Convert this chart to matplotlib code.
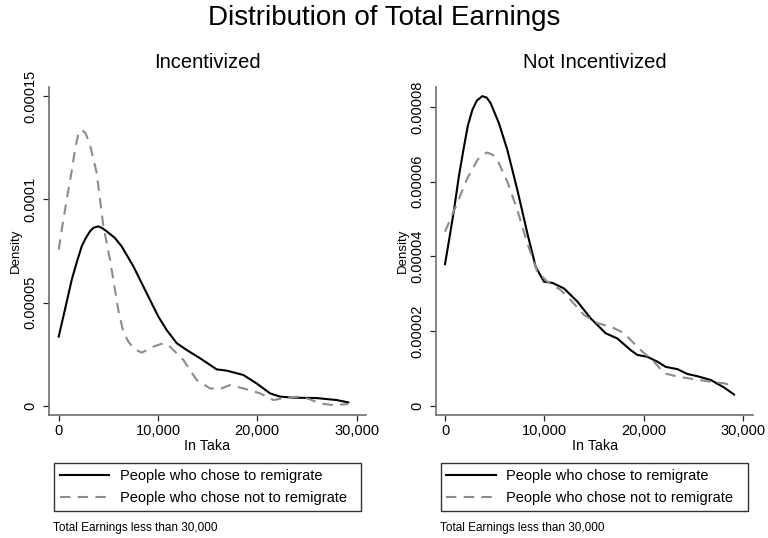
import matplotlib
matplotlib.use("Agg")
import matplotlib.pyplot as plt

plt.rcParams["font.family"] = ["Liberation Sans", "DejaVu Sans"]

# values (Taka, density)
inc_yes_x = [0, 650, 1310, 1850, 2315, 2700, 3150, 3500, 3990, 4400, 4830, 5670, 6340,
             7520, 8860, 10030, 10870, 11880, 12890, 14230, 15910, 16910, 18590, 19930,
             21280, 22280, 23620, 25970, 27990, 29160]
inc_yes_y = [3.35e-5, 4.7e-5, 6.1e-5, 7.0e-5, 7.72e-5, 8.1e-5, 8.45e-5, 8.62e-5,
             8.69e-5, 8.6e-5, 8.45e-5, 8.12e-5, 7.72e-5, 6.75e-5, 5.45e-5, 4.32e-5,
             3.67e-5, 3.03e-5, 2.7e-5, 2.3e-5, 1.76e-5, 1.7e-5, 1.49e-5, 1.08e-5,
             6.0e-6, 4.4e-6, 3.9e-6, 3.7e-6, 2.75e-6, 1.6e-6]

inc_no_x = [0, 400, 805, 1250, 1640, 1950, 2315, 2700, 3150, 3825, 4500, 5170, 6000,
            6500, 7010, 7600, 8360, 9530, 10540, 11210, 12550, 13890, 15230, 16240,
            17250, 18590, 20270, 21610, 22950, 24290, 25300, 26310, 27650, 29160]
inc_no_y = [7.56e-5, 8.8e-5, 9.98e-5, 1.12e-4, 1.241e-4, 1.31e-4, 1.338e-4, 1.32e-4,
            1.265e-4, 1.128e-4, 8.69e-5, 7.07e-5, 4.64e-5, 3.6e-5, 3.11e-5, 2.75e-5,
            2.57e-5, 2.86e-5, 3.03e-5, 2.86e-5, 2.22e-5, 1.25e-5, 8.4e-6, 8.1e-6,
            1.0e-5, 8.4e-6, 6.0e-6, 2.75e-6, 3.9e-6, 4.4e-6, 3.1e-6, 1.1e-6, 3e-7, 8e-7]

not_yes_x = [0, 450, 906, 1400, 1913, 2300, 2752, 3200, 3758, 4200, 4597, 5436, 6275,
             7282, 8289, 9128, 9966, 10805, 11980, 13320, 14664, 16174, 17349, 18690,
             19362, 20369, 21376, 22215, 23389, 24396, 25403, 26745, 28087, 29094]
not_yes_y = [3.79e-5, 4.5e-5, 5.24e-5, 6.15e-5, 6.94e-5, 7.5e-5, 7.92e-5, 8.17e-5,
             8.29e-5, 8.25e-5, 8.1e-5, 7.56e-5, 6.85e-5, 5.78e-5, 4.62e-5, 3.72e-5,
             3.32e-5, 3.29e-5, 3.14e-5, 2.79e-5, 2.34e-5, 1.94e-5, 1.8e-5, 1.49e-5,
             1.36e-5, 1.31e-5, 1.18e-5, 1.04e-5, 9.8e-6, 8.5e-6, 7.9e-6, 6.9e-6,
             4.9e-6, 3.0e-6]

not_no_x = [0, 1074, 2248, 3255, 3750, 4262, 4800, 5268, 6275, 7282, 8289, 9295, 10302,
            11644, 12651, 13993, 15336, 16678, 18020, 19698, 21040, 22047, 23389,
            25067, 26745, 28087, 29094]
not_no_y = [4.66e-5, 5.33e-5, 6.09e-5, 6.58e-5, 6.72e-5, 6.78e-5, 6.72e-5, 6.58e-5,
            6.0e-5, 5.24e-5, 4.35e-5, 3.59e-5, 3.32e-5, 3.1e-5, 2.83e-5, 2.43e-5,
            2.21e-5, 2.12e-5, 1.94e-5, 1.49e-5, 1.18e-5, 8.7e-6, 7.8e-6, 7.1e-6,
            6.4e-6, 6.0e-6, 5.3e-6]

x_ticks = [0, 10000, 20000, 30000]
x_labels = ["0", "10,000", "20,000", "30,000"]
inc_yticks = [0, 0.00005, 0.0001, 0.00015]
inc_ylabels = ["0", "0.00005", "0.0001", "0.00015"]
not_yticks = [0, 0.00002, 0.00004, 0.00006, 0.00008]
not_ylabels = ["0", "0.00002", "0.00004", "0.00006", "0.00008"]

labels = ["People who chose to remigrate", "People who chose not to remigrate"]
W, H = 768, 538

fig = plt.figure(figsize=(7.68, 5.38), dpi=100)
fig.patch.set_facecolor("white")
fig.text(0.5, 1 - 18 / H, "Distribution of Total Earnings", ha="center", va="center",
         fontsize=20)

panels = [
    ("Incentivized", 49, 366, inc_yes_x, inc_yes_y, inc_no_x, inc_no_y,
     inc_yticks, inc_ylabels, (-977, 30946), (-4.5e-6, 1.544e-4), 54),
    ("Not Incentivized", 436.3, 753, not_yes_x, not_yes_y, not_no_x, not_no_y,
     not_yticks, not_ylabels, (-876, 31007), (-2.49e-6, 8.535e-5), 440.5),
]

for (title, x0, x1, yx, yy, nx, ny, yt, yl, xlim, ylim, leg_x) in panels:
    ax = fig.add_axes([x0 / W, 1 - 415 / H, (x1 - x0) / W, (415 - 87) / H])
    l1, = ax.plot(yx, yy, color="black", lw=1.5, solid_joinstyle="round")
    l2, = ax.plot(nx, ny, color="#8c8c8c", lw=1.5, dashes=(5, 3.5))
    ax.set_xlim(*xlim)
    ax.set_ylim(*ylim)
    ax.set_xticks(x_ticks)
    ax.set_xticklabels(x_labels, fontsize=10.5)
    ax.set_yticks(yt)
    ax.set_yticklabels(yl, fontsize=10.5, rotation=90, va="center")
    for s in ["top", "right"]:
        ax.spines[s].set_visible(False)
    for s in ["left", "bottom"]:
        ax.spines[s].set_color("#6e6e6e")
        ax.spines[s].set_linewidth(1.2)
    ax.tick_params(length=4.5, width=0.9, color="#222222", pad=2)
    ax.tick_params(axis="y", pad=4)
    ax.set_ylabel("Density", fontsize=9.5, labelpad=1)
    ax.set_xlabel("In Taka", fontsize=10.3, labelpad=1)
    ax.set_title(title, fontsize=14.5, pad=14)
    leg = ax.legend([l1, l2], labels, loc="upper left",
                    bbox_to_anchor=(leg_x / W, 1 - 512 / H, 307 / W, 49 / H),
                    bbox_transform=fig.transFigure, mode="expand", borderaxespad=0,
                    fontsize=10.5, fancybox=False, handlelength=3.4,
                    handletextpad=0.7, labelspacing=0.55, borderpad=0.4)
    leg.get_frame().set_edgecolor("black")
    leg.get_frame().set_linewidth(1.0)
    fig.text((leg_x - 1) / W, 1 - 528 / H, "Total Earnings less than 30,000",
             fontsize=8.5, va="center", ha="left")

fig.savefig("out.png", dpi=100)
